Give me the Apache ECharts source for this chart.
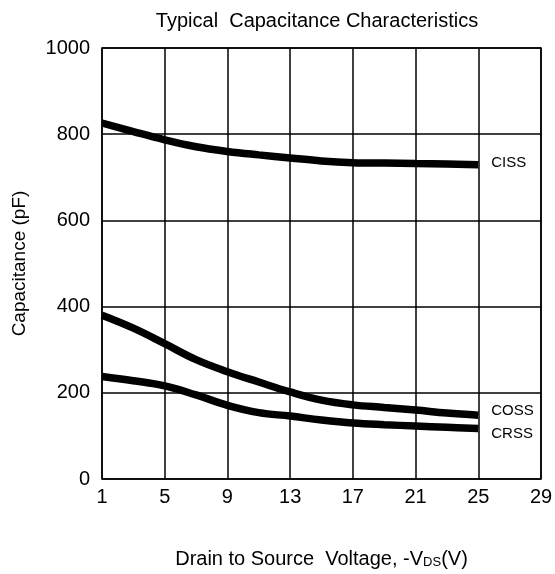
<!DOCTYPE html>
<html><head><meta charset="utf-8">
<script src="https://cdn.jsdelivr.net/npm/echarts@6/dist/echarts.min.js"></script>
<style>html,body{margin:0;padding:0;background:#fff}#c{width:555px;height:574px}</style>
</head><body><div id="c"></div>
<script>
const vds = [1, 3, 5, 7, 9, 11, 13, 15, 17, 19, 21, 23, 25];
const ciss = [826, 806, 787, 771, 760, 752, 745, 738, 734, 733, 732, 731, 729];
const coss = [380, 350, 314, 277, 249, 225, 202, 183, 172, 166, 160, 153, 148];
const crss = [238, 228, 216, 195, 171, 154, 146, 137, 130, 126, 123, 120, 117];
const xTicks = [1, 5, 9, 13, 17, 21, 25, 29];
const seriesNames = ['CISS', 'COSS', 'CRSS'];

const font = 'Liberation Sans, Arial, sans-serif';
const pair = (ys) => vds.map((x, i) => [x, ys[i]]);
function mk(name, ys, offY) {
  return {
    name, type: 'line', data: pair(ys), smooth: 0.4, symbol: 'none',
    lineStyle: { color: '#000', width: 7.5, cap: 'butt' },
    endLabel: { show: true, formatter: name, color: '#000', fontFamily: font, fontSize: 15, distance: 13, offset: [0, offY] },
    z: 5
  };
}
const chart = echarts.init(document.getElementById('c'), null, { renderer: 'canvas' });
chart.setOption({
  animation: false,
  title: { text: 'Typical  Capacitance Characteristics', left: 312, top: 6, textAlign: 'center',
    textStyle: { fontFamily: font, fontSize: 20, fontWeight: 'normal', color: '#000' } },
  grid: { left: 102, right: 14, top: 48, bottom: 95, show: true, borderColor: '#000', borderWidth: 1.5, outerBoundsMode: 'none', containLabel: false },
  xAxis: {
    type: 'value', min: 1, max: 29,
    axisLine: { show: false }, axisTick: { show: false, customValues: xTicks },
    axisLabel: { customValues: xTicks, color: '#000', fontFamily: font, fontSize: 20, margin: 8 },
    splitLine: { show: true, lineStyle: { color: '#000', width: 1.5 } },
    name: 'Drain to Source  Voltage, -V{s|DS}(V)', nameLocation: 'middle', nameGap: 70, nameMoveOverlap: false,
    nameTextStyle: { color: '#000', fontFamily: font, fontSize: 20, rich: { s: { fontSize: 13, fontFamily: font, color: '#000', verticalAlign: 'bottom', padding: [7, 0, 0, 0] } } }
  },
  yAxis: {
    type: 'value', min: 0, max: 1000, interval: 200,
    axisLine: { show: false }, axisTick: { show: false },
    axisLabel: { color: '#000', fontFamily: font, fontSize: 20, margin: 12, formatter: (v) => String(v) },
    splitLine: { show: true, lineStyle: { color: '#000', width: 1.5 } },
    name: 'Capacitance (pF)', nameLocation: 'middle', nameGap: 73, nameMoveOverlap: false,
    nameTextStyle: { color: '#000', fontFamily: font, fontSize: 19 }
  },
  series: [mk(seriesNames[0], ciss, -2), mk(seriesNames[1], coss, -4), mk(seriesNames[2], crss, 5)]
});
</script></body></html>
